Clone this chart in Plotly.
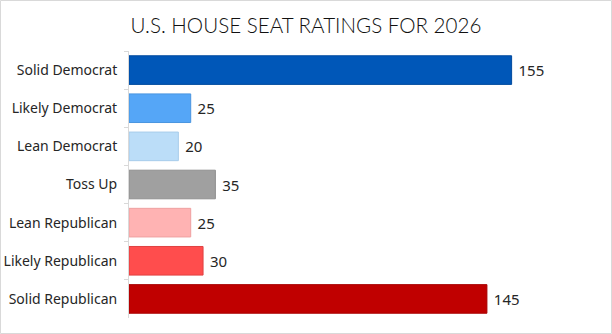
import plotly.graph_objects as go

categories = ["Solid Democrat", "Likely Democrat", "Lean Democrat", "Toss Up",
              "Lean Republican", "Likely Republican", "Solid Republican"]
seats = [155, 25, 20, 35, 25, 30, 145]
colors = ["#0057B8", "#55A6F7", "#BBDDF8", "#A0A0A0", "#FFB3B3", "#FF4D4D", "#C00000"]
edges = ["#004A9E", "#4A95E0", "#A8CCEA", "#8F8F8F", "#EFA0A0", "#E04040", "#A80000"]
title_text = "U.S. HOUSE SEAT RATINGS FOR 2026"

W, H = 612, 334
L, R, T, B = 129, 14, 51, 16

fig = go.Figure(go.Bar(
    y=categories, x=seats, orientation="h",
    marker=dict(color=colors, line=dict(color=edges, width=1)),
    width=0.75,
    texttemplate="\u00a0%{x}", textposition="outside",
    textfont=dict(family="Noto Sans", size=15, color="#262626"),
    cliponaxis=False,
))

fig.update_layout(
    width=W, height=H,
    margin=dict(l=L, r=R, t=T, b=B, autoexpand=False),
    paper_bgcolor="white", plot_bgcolor="white",
    showlegend=False,
    title=dict(text=title_text, x=0.5, xref="container", xanchor="center",
               y=1 - 26 / H, yanchor="middle",
               font=dict(family="Lato", size=20.6, color="#111111", weight=300)),
    xaxis=dict(range=[0, 190], visible=False, fixedrange=True),
    yaxis=dict(autorange="reversed", showline=True, linecolor="#D9D9D9", linewidth=1,
               ticks="outside", tickson="boundaries", ticklen=4, tickcolor="#D9D9D9",
               showgrid=False, zeroline=False, automargin=False,
               tickfont=dict(family="Noto Sans", size=14, color="#262626"),
               ticklabelstandoff=8),
    bargap=0.25,
)

pw, ph = W - L - R, H - T - B
fig.add_shape(type="rect", xref="paper", yref="paper",
              x0=(0.5 - L) / pw, x1=(W - 0.5 - L) / pw,
              y0=-(B - 0.5) / ph, y1=1 + (T - 0.5) / ph,
              line=dict(color="#D9D9D9", width=1), fillcolor="rgba(0,0,0,0)", layer="below")

fig.write_html("out.html")
